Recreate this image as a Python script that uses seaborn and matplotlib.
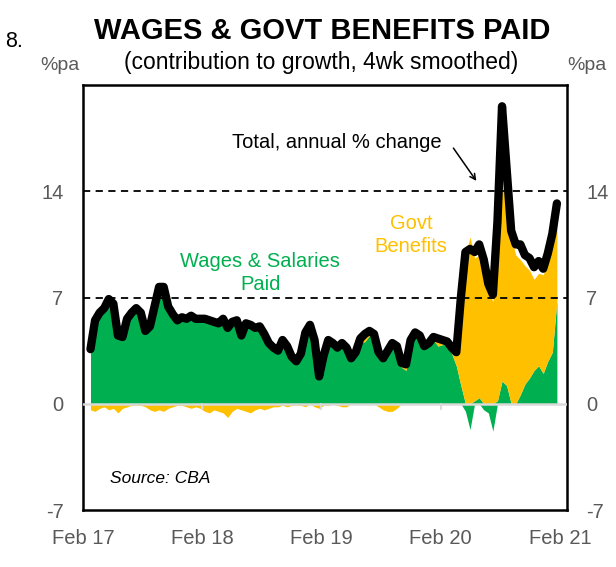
import numpy as np
import pandas as pd
import matplotlib
matplotlib.use("Agg")
import matplotlib.pyplot as plt
import seaborn as sns

sns.set_style("white")
plt.rcParams['font.family'] = ['Liberation Sans', 'DejaVu Sans']
plt.rcParams['axes.unicode_minus'] = False
plt.rcParams['text.color'] = 'black'

# fortnightly observations, Feb 2017 - Jan 2021
start_date = "2017-02-24"

total = [3.6, 5.5, 6.0, 6.3, 6.9, 6.6, 4.5, 4.4, 5.6, 6.0,
         6.3, 6.0, 4.8, 5.1, 6.4, 7.7, 7.7, 6.4, 5.9, 5.5,
         5.7, 5.6, 5.8, 5.6, 5.6, 5.6, 5.5, 5.4, 5.3, 5.6,
         5.0, 5.4, 5.5, 4.5, 5.3, 5.2, 5.0, 5.1, 4.6, 4.0,
         3.7, 3.5, 4.2, 3.8, 3.1, 2.8, 3.3, 4.7, 5.2, 4.2,
         1.8, 3.2, 4.2, 4.0, 3.7, 4.0, 3.7, 3.0, 3.4, 4.3,
         4.6, 4.8, 4.6, 3.4, 3.0, 3.5, 4.0, 3.8, 2.7, 2.6,
         4.2, 4.7, 4.5, 3.8, 4.0, 4.4, 4.3, 4.2, 4.1, 3.7,
         3.4, 7.0, 10.0, 10.2, 10.0, 10.5, 9.5, 7.9, 7.2, 12.0,
         19.6, 15.5, 11.4, 10.5, 10.5, 9.8, 9.6, 9.0, 9.4, 8.9,
         9.9, 11.2, 13.2]

wages = [3.7, 5.5, 6.0, 6.3, 6.9, 6.6, 4.6, 4.5, 5.6, 6.0,
         6.3, 6.0, 4.9, 5.2, 6.5, 7.7, 7.7, 6.5, 6.0, 5.6,
         5.8, 5.7, 5.9, 5.7, 5.7, 5.7, 5.6, 5.5, 5.4, 5.9,
         5.1, 5.5, 5.6, 4.6, 5.4, 5.3, 5.1, 5.2, 4.7, 4.1,
         3.8, 3.6, 4.3, 3.9, 3.2, 2.9, 3.4, 4.8, 5.1, 4.3,
         1.9, 3.3, 4.3, 4.0, 3.8, 4.1, 3.8, 2.9, 3.2, 4.0,
         4.1, 4.5, 4.5, 3.5, 3.1, 3.6, 4.1, 3.9, 2.4, 2.2,
         4.0, 4.7, 4.4, 3.8, 3.9, 4.2, 3.8, 3.9, 3.9, 3.3,
         2.5, 1.2, -0.5, -1.7, 0.2, 0.4, -0.4, -0.6, -1.8, 0.2,
         1.5, 1.2, 0.0, 0.0, 0.6, 1.3, 1.7, 2.2, 2.5, 2.0,
         2.8, 3.4, 6.8]

govt = [-0.4, -0.5, -0.3, -0.2, -0.4, -0.3, -0.6, -0.3, -0.2, -0.1,
        -0.1, -0.1, -0.2, -0.4, -0.5, -0.4, -0.5, -0.3, -0.2, -0.1,
        -0.1, -0.2, -0.3, -0.2, -0.3, -0.5, -0.6, -0.4, -0.5, -0.6,
        -0.9, -0.5, -0.3, -0.4, -0.5, -0.6, -0.4, -0.3, -0.4, -0.3,
        -0.2, -0.2, -0.1, -0.2, -0.1, -0.1, -0.1, -0.2, 0.1, -0.2,
        -0.3, -0.1, -0.1, 0.0, -0.1, -0.2, -0.2, 0.1, 0.2, 0.3,
        0.5, 0.3, 0.1, -0.2, -0.4, -0.5, -0.5, -0.3, 0.3, 0.4,
        0.2, 0.0, 0.1, 0.0, 0.1, 0.2, 0.5, 0.3, 0.2, 0.4,
        0.9, 4.3, 9.8, 11.0, 9.4, 9.4, 9.0, 7.6, 6.7, 11.3,
        14.3, 12.4, 11.0, 9.8, 8.9, 7.8, 7.1, 6.0, 6.1, 6.5,
        6.6, 7.1, 5.2]

year_ticks = ["2017-02-01", "2018-02-01", "2019-02-01", "2020-02-01", "2021-02-01"]
year_labels = ["Feb 17", "Feb 18", "Feb 19", "Feb 20", "Feb 21"]
y_ticks = [-7, 0, 7, 14]

green = "#00B050"
gold = "#FFC000"
grey_txt = "#595959"

df = pd.DataFrame({
    "date": pd.date_range(start_date, periods=len(total), freq="14D"),
    "total": total,
    "wages": wages,
    "govt": govt,
})
w = df["wages"].to_numpy()
g = df["govt"].to_numpy()
w_pos = np.clip(w, 0, None)
w_neg = np.clip(w, None, 0)
g_pos = np.clip(g, 0, None)
g_neg = np.clip(g, None, 0)

fig = plt.figure(figsize=(6.16, 5.67), dpi=100)
ax = fig.add_axes([0.1347, 0.1005, 0.7858, 0.7495])

ax.fill_between(df["date"], 0, w_pos, color=green, lw=0)
ax.fill_between(df["date"], w_pos, w_pos + g_pos, color=gold, lw=0)
ax.fill_between(df["date"], 0, w_neg, color=green, lw=0)
ax.fill_between(df["date"], w_neg, w_neg + g_neg, color=gold, lw=0)

ax.axhline(0, color="#d9d9d9", lw=1.8, zorder=3)
# small grey year ticks hanging off the zero line
for d in year_ticks[1:4]:
    ax.plot([pd.Timestamp(d)] * 2, [0, -0.35], color="#d9d9d9", lw=1.5, zorder=3)
for lvl in [7, 14]:
    ax.axhline(lvl, color="black", lw=1.3, ls=(0, (4, 3)), zorder=2)

sns.lineplot(data=df, x="date", y="total", color="black", lw=6,
             ax=ax, zorder=4, solid_capstyle="round", solid_joinstyle="round")

ax.set_ylim(-7, 21)
ax.set_xlim(pd.Timestamp("2017-02-01"), pd.Timestamp("2021-02-22"))
ax.set_xticks(pd.to_datetime(year_ticks))
ax.set_xticklabels(year_labels)
ax.set_yticks(y_ticks)
ax.set_xlabel("")
ax.set_ylabel("")
ax.tick_params(axis="x", length=0, pad=14, labelsize=14.5, labelcolor=grey_txt)
ax.tick_params(axis="y", length=0, pad=14, labelsize=14.5, labelcolor=grey_txt,
               labelright=True, right=False)
ax.grid(False)
for sp in ax.spines.values():
    sp.set_color("black")
    sp.set_linewidth(1.8)

# annotations
ax.text(0.525, 0.864, "Total, annual % change", transform=ax.transAxes,
        fontsize=14.5, ha="center", va="center", color="black")
ax.annotate("", xy=(0.816, 0.769), xytext=(0.762, 0.857), xycoords="axes fraction",
            arrowprops=dict(arrowstyle="->", color="black", lw=1.1))
ax.text(0.366, 0.558, "Wages & Salaries\nPaid", transform=ax.transAxes,
        fontsize=14.5, ha="center", va="center", color=green, linespacing=1.25)
ax.text(0.678, 0.647, "Govt\nBenefits", transform=ax.transAxes,
        fontsize=14.5, ha="center", va="center", color=gold, linespacing=1.25)
ax.text(0.055, 0.075, "Source: CBA", transform=ax.transAxes,
        fontsize=12.5, ha="left", va="center", style="italic", color="black")

fig.text(0.523, 0.945, "WAGES & GOVT BENEFITS PAID", fontsize=21,
         fontweight="bold", ha="center", va="center", color="black")
fig.text(0.522, 0.889, "(contribution to growth, 4wk smoothed)", fontsize=16.5,
         ha="center", va="center", color="black")
fig.text(0.008, 0.927, "8.", fontsize=15.5, ha="left", va="center", color="black")
fig.text(0.098, 0.884, "%pa", fontsize=14, ha="center", va="center", color=grey_txt)
fig.text(0.952, 0.884, "%pa", fontsize=14, ha="center", va="center", color=grey_txt)

fig.savefig("out.png", dpi=100)
